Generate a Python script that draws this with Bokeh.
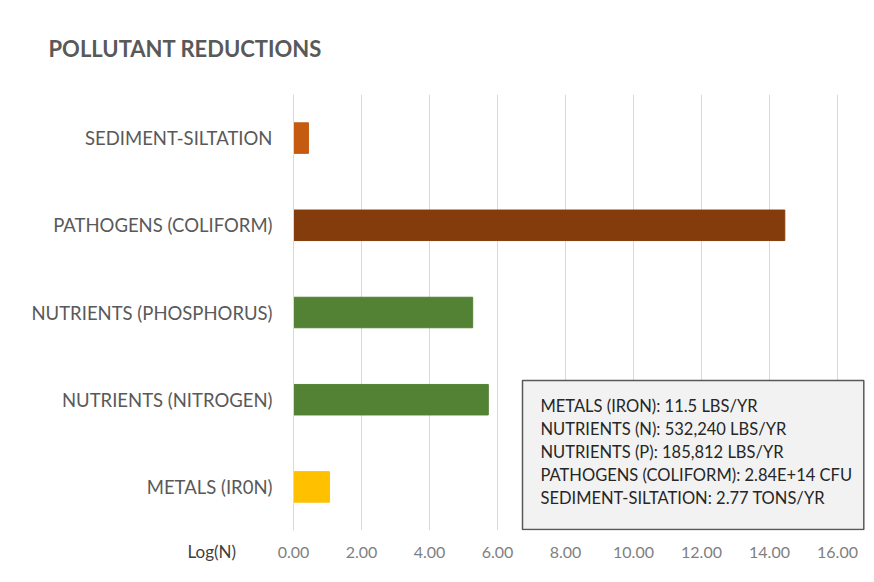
from bokeh.plotting import figure
from bokeh.models import FactorRange, Range1d, FixedTicker, PrintfTickFormatter, Title, ColumnDataSource
from bokeh.core.properties import value
from bokeh.embed import file_html
from bokeh.resources import INLINE

# ---------------- data ----------------
categories = ["METALS (IR0N)", "NUTRIENTS (NITROGEN)", "NUTRIENTS (PHOSPHORUS)",
              "PATHOGENS (COLIFORM)", "SEDIMENT-SILTATION"]
log_values = [1.06, 5.73, 5.27, 14.45, 0.44]
bar_colors = ["#FFC000", "#548235", "#548235", "#843C0C", "#C55A11"]
x_ticks = [0, 2, 4, 6, 8, 10, 12, 14, 16]
note_lines = [
    "METALS (IRON): 11.5 LBS/YR",
    "NUTRIENTS (N): 532,240 LBS/YR",
    "NUTRIENTS (P): 185,812 LBS/YR",
    "PATHOGENS (COLIFORM): 2.84E+14 CFU",
    "SEDIMENT-SILTATION: 2.77 TONS/YR",
]
title_text = "POLLUTANT REDUCTIONS"
axis_note = "Log(N)"

FONT = "Lato"

# ---------------- layout ----------------
W, H = 866, 574
B_LEFT, B_RIGHT, B_TOP, B_BOTTOM = 293, 1, 94, 44
frame_w = W - B_LEFT - B_RIGHT
frame_h = H - B_TOP - B_BOTTOM
PX_PER_UNIT = 34.0
x_end = frame_w / PX_PER_UNIT
n_cat = len(categories)

def px_x(fx):  # pixel x -> data x
    return (fx - B_LEFT) / PX_PER_UNIT

def px_y(fy):  # pixel y (from top) -> synthetic y
    return n_cat - (fy - B_TOP) / (frame_h / n_cat)

p = figure(width=W, height=H, y_range=FactorRange(factors=categories, range_padding=0),
           x_range=Range1d(0, x_end), output_backend="svg", toolbar_location=None,
           min_border_left=B_LEFT, min_border_right=B_RIGHT,
           min_border_top=B_TOP, min_border_bottom=B_BOTTOM)
p.outline_line_color = None
p.background_fill_color = "white"
p.border_fill_color = "white"

# title
p.title.text = title_text
p.title.text_font = FONT
p.title.text_font_size = "22px"
p.title.text_font_style = "bold"
p.title.text_color = "#595959"
p.title.align = "left"
p.title.vertical_align = "middle"
p.title.offset = 48 - B_LEFT
p.title.standoff = 64

src = ColumnDataSource(dict(cat=categories, val=log_values, color=bar_colors))
p.hbar(y="cat", right="val", left=0, height=0.35, color="color", source=src)

# axes
p.xaxis.ticker = FixedTicker(ticks=x_ticks)
p.xaxis.formatter = PrintfTickFormatter(format="%.2f")
p.xaxis.major_label_text_font = FONT
p.xaxis.major_label_text_font_size = "16px"
p.xaxis.major_label_text_color = "#7f7f7f"
p.xaxis.major_label_standoff = 16
for ax in (p.xaxis, p.yaxis):
    ax.major_tick_line_color = None
    ax.minor_tick_line_color = None
    ax.major_tick_out = 0
    ax.major_tick_in = 0
    ax.minor_tick_out = 0
p.xaxis.axis_line_color = None
p.yaxis.axis_line_color = "#d9d9d9"
p.yaxis.major_label_text_font = FONT
p.yaxis.major_label_text_font_size = "18.5px"
p.yaxis.major_label_text_color = "#595959"
p.yaxis.major_label_standoff = 21

p.xgrid.ticker = FixedTicker(ticks=x_ticks)
p.xgrid.grid_line_color = "#d9d9d9"
p.ygrid.grid_line_color = None

# annotation box
p.quad(left=[px_x(522)], right=[x_end - 0.05], top=[px_y(380)], bottom=[px_y(529)],
       fill_color="#f2f2f2", line_color="#595959", line_width=1.5)
row_y = [px_y(r) for r in (405, 428, 451, 474, 497)]
p.text(x=[px_x(540)] * len(note_lines), y=row_y, text=note_lines,
       text_font=value(FONT), text_font_size="16.5px", text_color="#262626",
       text_baseline="middle", text_align="left")

# Log(N) note, placed in the below panel next to the tick labels
note = Title(text=axis_note, text_font=FONT, text_font_size="17px", text_color="#404040",
             text_font_style="normal", align="left", vertical_align="top",
             offset=187 - B_LEFT, standoff=-40)
p.add_layout(note, "below")

open("out.html", "w").write(file_html(p, INLINE))
